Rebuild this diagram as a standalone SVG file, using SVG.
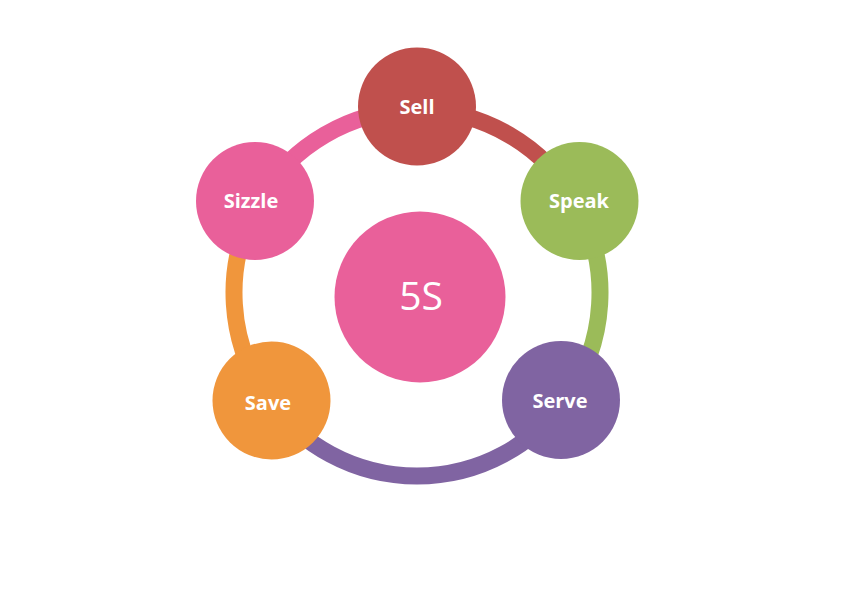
<svg xmlns="http://www.w3.org/2000/svg" width="842" height="595" viewBox="0 0 842 595">
<style>
.arc{fill:none;stroke-width:17}
.lbl{font-family:"Open Sans","Liberation Sans",sans-serif;font-weight:bold;font-size:20px;fill:#fff;text-anchor:middle}
.big{font-family:"Open Sans","Liberation Sans",sans-serif;font-size:39px;fill:#fff;text-anchor:middle}
</style>
<rect width="842" height="595" fill="#fff"/>
<g id="connectors">
<path class="arc" stroke="#E9609A" d="M257.9,202.6 A183,183 0 0 1 417,110"/>
<path class="arc" stroke="#C0504D" d="M417,110 A183,183 0 0 1 576.1,202.6"/>
<path class="arc" stroke="#9BBB59" d="M576.1,202.6 A183,183 0 0 1 563.9,402.1"/>
<path class="arc" stroke="#8064A2" d="M563.9,402.1 A183,183 0 0 1 270.1,402.1"/>
<path class="arc" stroke="#F0963C" d="M270.1,402.1 A183,183 0 0 1 257.9,202.6"/>
</g>
<g id="center"><circle cx="420" cy="297" r="85.5" fill="#E9609A"/><text class="big" x="421" y="310">5S</text></g>
<g id="sell"><circle cx="417" cy="106.5" r="59" fill="#C0504D"/><text class="lbl" x="417" y="114">Sell</text></g>
<g id="speak"><circle cx="579.5" cy="201" r="59" fill="#9BBB59"/><text class="lbl" x="579" y="208">Speak</text></g>
<g id="serve"><circle cx="561" cy="400" r="59" fill="#8064A2"/><text class="lbl" x="560" y="408">Serve</text></g>
<g id="save"><circle cx="271.5" cy="400.5" r="59" fill="#F0963C"/><text class="lbl" x="268" y="410">Save</text></g>
<g id="sizzle"><circle cx="255" cy="201" r="59" fill="#E9609A"/><text class="lbl" x="251" y="208">Sizzle</text></g>
</svg>
